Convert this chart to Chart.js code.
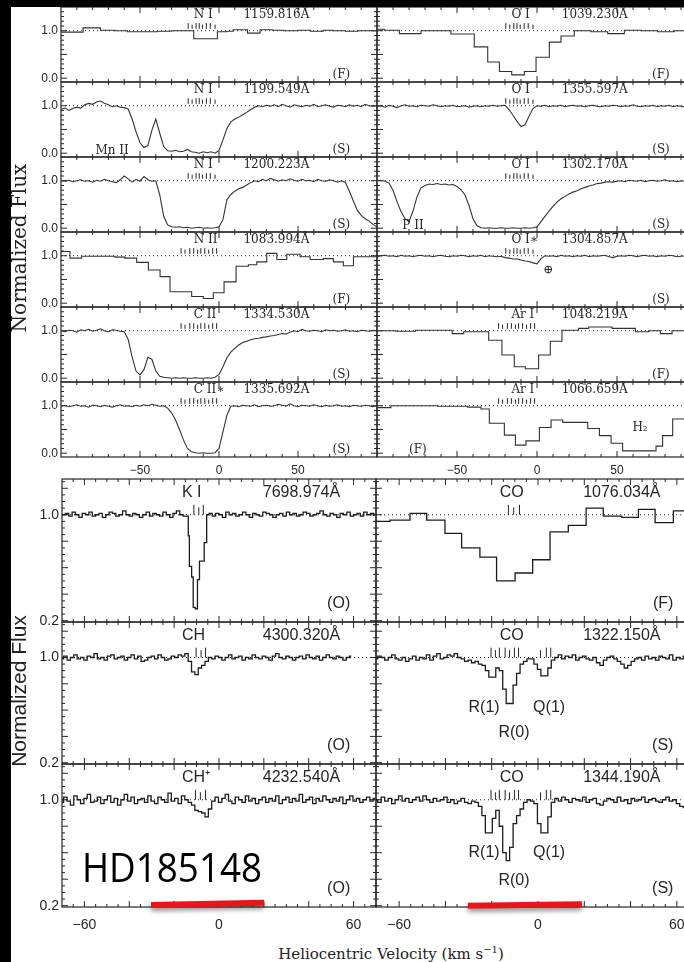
<!DOCTYPE html>
<html>
<head>
<meta charset="utf-8">
<title>HD185148 interstellar line profiles</title>
<script src="https://cdn.jsdelivr.net/npm/chart.js@4.4.1/dist/chart.umd.min.js"></script>
<style>
  html, body { margin: 0; padding: 0; overflow: hidden; background: #fff; }
  #fig { position: relative; width: 684px; height: 962px; overflow: hidden; background: #fff; }
  #fig canvas { position: absolute; }
  .bar { position: absolute; background: #000; z-index: 5; }
  .ytitle { position: absolute; white-space: nowrap; transform: translate(-50%, -50%) rotate(-90deg); color: #222; z-index: 6; }
  #xtitle { position: absolute; left: 391px; top: 953px; transform: translate(-50%, -50%); white-space: nowrap;
            font: 15px "DejaVu Serif", serif; color: #222; }
  #xtitle sup { font-size: 10px; }
</style>
</head>
<body>
<div id="fig">
  <div class="bar" style="left:0;top:0;width:684px;height:7px"></div>
  <div class="bar" style="left:0;top:0;width:11px;height:962px"></div>
  <div class="ytitle" style="left:19px;top:248px;font:20px 'DejaVu Serif',serif">Normalized Flux</div>
  <div class="ytitle" style="left:19px;top:691px;font:21px 'Liberation Sans',sans-serif">Normalized Flux</div>
  <div id="xtitle">Heliocentric Velocity (km s<sup>&minus;1</sup>)</div>
</div>
<script>
const INK = '#262626';
const SERIF = '"DejaVu Serif", "Liberation Serif", serif';
const SANS = '"Liberation Sans", Arimo, Helvetica, sans-serif';

// ---------- UV profiles (km/s, normalized flux) ----------
// STIS pixels, 2.5 km/s sampling
const velTopS = [
  -100, -97.5, -95, -92.5, -90, -87.5, -85, -82.5, -80, -77.5,
  -75, -72.5, -70, -67.5, -65, -62.5, -60, -57.5, -55, -52.5,
  -50, -47.5, -45, -42.5, -40, -37.5, -35, -32.5, -30, -27.5,
  -25, -22.5, -20, -17.5, -15, -12.5, -10, -7.5, -5, -2.5,
  0, 2.5, 5, 7.5, 10, 12.5, 15, 17.5, 20, 22.5,
  25, 27.5, 30, 32.5, 35, 37.5, 40, 42.5, 45, 47.5,
  50, 52.5, 55, 57.5, 60, 62.5, 65, 67.5, 70, 72.5,
  75, 77.5, 80, 82.5, 85, 87.5, 90, 92.5, 95, 97.5, 100
];
const nI1199Flux = [
  0.93, 0.95, 0.90, 0.94, 0.97, 0.95, 1.02, 1.05, 1.03, 1.08,
  1.10, 1.05, 1.02, 0.98, 1.00, 0.97, 0.96, 0.93, 0.72, 0.45,
  0.22, 0.12, 0.16, 0.48, 0.72, 0.42, 0.14, 0.05, 0.04, 0.06,
  0.03, 0.04, 0.08, 0.03, 0.02, 0.00, 0.03, 0.01, 0.03, 0.00,
  0.06, 0.28, 0.52, 0.66, 0.72, 0.76, 0.81, 0.86, 0.92, 0.97,
  1.00, 0.98, 1.01, 0.99, 1.02, 0.98, 1.03, 1.00, 0.97, 1.02,
  1.00, 0.98, 1.01, 0.99, 1.03, 0.98, 1.00, 1.02, 0.99, 0.97,
  1.01, 1.00, 0.98, 1.02, 0.99, 1.01, 0.98, 1.03, 1.00, 0.99, 1.00
];
const nI1200Flux = [
  1.00, 0.99, 1.01, 0.98, 1.00, 1.02, 0.99, 1.00, 0.97, 1.01,
  0.99, 1.03, 1.00, 0.98, 0.96, 1.02, 1.10, 1.04, 0.97, 1.03,
  0.99, 1.09, 1.02, 0.99, 1.00, 0.70, 0.25, 0.07, 0.03, 0.02,
  0.03, 0.01, 0.02, 0.00, 0.01, 0.02, 0.00, 0.01, 0.00, 0.01,
  0.03, 0.18, 0.60, 0.71, 0.78, 0.83, 0.86, 0.91, 0.96, 1.00,
  0.98, 1.03, 1.00, 1.05, 1.02, 0.99, 1.02, 1.00, 1.04, 1.01,
  0.99, 1.03, 1.00, 1.01, 0.98, 1.03, 1.00, 0.99, 1.02, 1.00,
  0.97, 1.00, 0.97, 0.78, 0.58, 0.38, 0.27, 0.20, 0.15, 0.08, 0.03
];
const cII1334Flux = [
  1.00, 0.98, 1.01, 1.00, 0.97, 1.02, 1.00, 1.03, 0.99, 1.01,
  1.04, 1.00, 0.98, 1.02, 1.01, 0.99, 0.98, 0.82, 0.45, 0.15,
  0.07, 0.18, 0.44, 0.40, 0.15, 0.04, 0.02, 0.01, 0.00, 0.01,
  0.00, 0.01, 0.00, 0.00, 0.01, 0.00, 0.00, 0.01, 0.00, 0.02,
  0.08, 0.24, 0.43, 0.55, 0.63, 0.70, 0.75, 0.78, 0.81, 0.83,
  0.84, 0.86, 0.87, 0.89, 0.90, 0.92, 0.94, 0.93, 0.97, 1.00,
  0.98, 1.03, 1.00, 0.99, 1.01, 1.00, 0.98, 1.02, 1.00, 1.01,
  0.99, 1.00, 1.02, 0.99, 1.00, 0.98, 1.01, 1.00, 0.99, 1.01, 1.00
];
const cIIs1335Flux = [
  0.99, 1.01, 0.98, 1.00, 1.02, 0.99, 1.00, 0.97, 1.01, 1.00,
  0.98, 1.01, 0.99, 0.97, 1.00, 1.02, 0.99, 1.00, 0.98, 1.01,
  0.99, 1.02, 1.00, 1.03, 1.01, 0.99, 1.00, 0.95, 0.85, 0.70,
  0.50, 0.28, 0.10, 0.03, 0.01, 0.00, 0.01, 0.00, 0.00, 0.01,
  0.10, 0.45, 0.80, 0.99, 1.00, 0.98, 1.01, 1.00, 0.99, 1.02,
  0.98, 1.00, 1.01, 0.99, 1.00, 1.03, 1.01, 0.99, 1.04, 1.00,
  0.98, 1.01, 1.00, 0.99, 1.02, 1.00, 0.98, 1.01, 0.99, 1.00,
  1.02, 0.99, 1.00, 0.98, 1.01, 1.00, 0.99, 1.01, 1.00, 0.98, 1.00
];
const oI1355Flux = [
  0.98, 1.00, 0.97, 1.01, 0.99, 0.96, 1.00, 1.02, 0.99, 1.00,
  0.98, 1.01, 1.00, 0.99, 1.02, 1.00, 0.98, 1.00, 0.99, 1.01,
  0.98, 0.99, 1.00, 0.97, 0.99, 1.00, 0.98, 1.00, 0.99, 1.01,
  0.99, 1.00, 1.01, 0.92, 0.80, 0.67, 0.56, 0.60, 0.78, 0.94,
  1.00, 0.99, 1.01, 0.98, 1.00, 0.99, 1.01, 0.98, 1.00, 1.01,
  0.99, 1.00, 0.98, 1.00, 1.01, 0.99, 0.98, 1.00, 0.99, 1.01,
  1.00, 0.98, 1.00, 0.99, 1.02, 0.99, 0.98, 1.00, 0.99, 1.01,
  0.98, 1.00, 0.99, 1.01, 0.98, 1.00, 0.99, 0.97, 1.00, 0.99, 1.00
];
const oI1302Flux = [
  1.00, 1.01, 0.99, 0.95, 0.80, 0.56, 0.35, 0.20, 0.14, 0.36,
  0.66, 0.85, 0.90, 0.93, 0.92, 0.94, 0.92, 0.93, 0.91, 0.92,
  0.88, 0.81, 0.70, 0.48, 0.20, 0.05, 0.01, 0.00, 0.01, 0.00,
  0.00, 0.01, 0.00, 0.00, 0.01, 0.00, 0.00, 0.01, 0.00, 0.01,
  0.03, 0.14, 0.25, 0.36, 0.46, 0.55, 0.62, 0.67, 0.72, 0.76,
  0.79, 0.83, 0.86, 0.89, 0.91, 0.94, 0.95, 0.97, 0.98, 0.97,
  0.99, 1.00, 0.98, 1.01, 1.00, 0.99, 1.01, 0.98, 1.00, 1.01,
  0.99, 1.00, 1.02, 0.99, 1.00, 0.98, 1.00, 0.99, 1.00, 1.01, 1.00
];
const oIs1304Flux = [
  0.98, 1.00, 1.01, 0.99, 1.00, 0.98, 1.01, 0.99, 1.00, 0.98,
  1.00, 1.01, 0.99, 1.00, 0.98, 1.00, 1.01, 0.99, 0.98, 1.00,
  0.99, 1.01, 1.00, 0.98, 1.00, 0.99, 1.01, 0.98, 1.00, 0.99,
  0.98, 0.99, 0.96, 0.95, 0.93, 0.93, 0.91, 0.89, 0.88, 0.85,
  0.83, 0.94, 1.00, 0.99, 1.00, 0.98, 1.01, 0.99, 1.00, 0.98,
  1.00, 0.99, 1.01, 0.98, 1.00, 0.99, 1.00, 1.01, 0.98, 0.96,
  0.99, 1.00, 0.99, 1.01, 1.00, 0.98, 1.00, 1.01, 0.99, 1.00,
  0.98, 1.00, 0.99, 1.01, 1.00, 0.98, 0.99, 1.00, 0.99, 1.00, 1.00
];

// FUSE bins: left bin edges, value held to the next edge
const nI1159Vel  = [-100, -86, -75, -66, -58, -48, -39, -30, -22, -16, -1, 5, 9, 18, 26, 34, 41, 50, 58, 66, 72, 80, 88, 96, 100];
const nI1159Flux = [0.97, 1.06, 1.01, 1.00, 0.98, 0.98, 0.99, 1.00, 1.00, 0.83, 0.98, 0.99, 1.02, 0.95, 1.02, 1.01, 1.00, 1.01, 0.99, 1.01, 1.00, 0.99, 1.00, 1.00, 1.00];
const nII1083Vel  = [-100, -94.3, -86.9, -75.3, -65.8, -59.5, -52.1, -44.7, -37.3, -31, -24, -17.3, -9.9, -3.6, 3.2, 10.8, 18.6, 23.9, 30.2, 36.6, 42.9, 51.3, 57.7, 66.1, 72.4, 78.7, 85.1, 100];
const nII1083Flux = [1.09, 0.95, 0.99, 0.99, 0.97, 0.95, 0.86, 0.70, 0.56, 0.24, 0.24, 0.14, 0.10, 0.22, 0.45, 0.78, 0.81, 0.87, 1.05, 0.92, 1.03, 0.98, 0.92, 0.94, 0.87, 0.79, 0.98, 0.98];
const oI1039Vel  = [-100, -95.4, -86, -72.5, -53.8, -39.2, -30.8, -23.5, -15.8, -7.9, -0.6, 7.7, 15, 23.3, 33.8, 44.2, 54.6, 65, 75.4, 85.8, 100];
const oI1039Flux = [1.03, 1.01, 0.94, 1.00, 0.93, 0.66, 0.34, 0.14, 0.07, 0.14, 0.44, 0.76, 0.89, 1.00, 0.98, 0.94, 1.01, 1.00, 0.98, 1.00, 1.00];
const arI1048Vel  = [-100, -88.3, -76, -53, -45.8, -30.2, -21.9, -14.2, -7.3, 1, 8.3, 15.6, 26, 32.3, 46.9, 61.5, 69.8, 77.1, 84.4, 92.7, 100];
const arI1048Flux = [1.00, 0.99, 1.01, 0.94, 0.98, 0.80, 0.49, 0.24, 0.20, 0.49, 0.78, 1.01, 1.05, 1.08, 1.05, 0.98, 1.00, 0.94, 1.00, 1.01, 1.01];
const arI1066Vel  = [-100, -91.3, -80.8, -62, -43.3, -35, -29.8, -20.4, -13.5, -6.9, 1.5, 8.8, 16.1, 31.7, 39, 46.3, 53.5, 74.4, 78.5, 84.8, 100];
const arI1066Flux = [0.96, 1.00, 1.00, 0.99, 0.97, 0.93, 0.63, 0.38, 0.17, 0.26, 0.54, 0.70, 0.65, 0.52, 0.37, 0.21, 0.05, 0.15, 0.37, 0.72, 0.72];

// ---------- optical and CO profiles ----------
const velBottom = [
  -70, -68.5, -67, -65.5, -64, -62.5, -61, -59.5, -58, -56.5,
  -55, -53.5, -52, -50.5, -49, -47.5, -46, -44.5, -43, -41.5,
  -40, -38.5, -37, -35.5, -34, -32.5, -31, -29.5, -28, -26.5,
  -25, -23.5, -22, -20.5, -19, -17.5, -16, -14.5, -13, -11.5,
  -10, -8.5, -7, -5.5, -4, -2.5, -1, 0.5, 2, 3.5,
  5, 6.5, 8, 9.5, 11, 12.5, 14, 15.5, 17, 18.5,
  20, 21.5, 23, 24.5, 26, 27.5, 29, 30.5, 32, 33.5,
  35, 36.5, 38, 39.5, 41, 42.5, 44, 45.5, 47, 48.5,
  50, 51.5, 53, 54.5, 56, 57.5, 59, 60.5, 62, 63.5,
  65, 66.5, 68, 69.5
];
const kIVel = [
  -70, -68.5, -67, -65.5, -64, -62.5, -61, -59.5, -58, -56.5,
  -55, -53.5, -52, -50.5, -49, -47.5, -46, -44.5, -43, -41.5,
  -40, -38.5, -37, -35.5, -34, -32.5, -31, -29.5, -28, -26.5,
  -25, -23.5, -22, -20.5, -19, -17.5, -16,
  -14.8, -13.7, -13.2, -12.2, -11.5, -10.6, -9.6, -8.7, -7.6, -6.6, -5.5, -4.4, -3,
  -1.5, 0, 1.5, 3, 4.5, 6, 7.5, 9, 10.5, 12, 13.5, 15, 16.5, 18, 19.5, 21,
  22.5, 24, 25.5, 27, 28.5, 30, 31.5, 33, 34.5, 36, 37.5, 39, 40.5, 42,
  43.5, 45, 46.5, 48, 49.5, 51, 52.5, 54, 55.5, 57, 58.5, 60, 61.5, 63,
  64.5, 66, 67.5, 69
];
const kIFlux = [
  1.00, 1.01, 0.99, 1.02, 1.00, 0.98, 1.01, 1.00, 1.02, 0.99,
  1.00, 1.01, 0.98, 1.00, 1.02, 1.01, 0.99, 1.00, 1.03, 1.00,
  0.99, 1.01, 1.00, 0.98, 1.00, 1.02, 0.99, 1.01, 1.00, 0.99,
  1.02, 1.00, 0.98, 1.01, 1.03, 1.00, 0.99,
  0.99, 0.84, 0.61, 0.53, 0.30, 0.29, 0.51, 0.65, 0.65, 0.79, 1.00, 1.01, 0.99,
  1.01, 1.00, 0.98, 1.02, 1.00, 1.01, 0.99, 1.00, 1.02, 1.00,
  0.98, 1.01, 1.00, 0.99, 1.02, 1.01, 1.00, 0.98, 1.00, 1.01,
  0.99, 1.02, 1.00, 1.01, 0.99, 1.00, 1.02, 1.01, 0.99, 1.00,
  1.01, 1.03, 1.00, 0.99, 1.01, 1.00, 0.98, 1.01, 1.00, 1.02,
  0.99, 1.00, 1.01, 0.99, 1.02, 1.00, 1.01, 0.99
];
const chFlux = [
  0.99, 1.01, 0.98, 1.00, 1.02, 0.99, 1.00, 0.98, 1.01, 1.00,
  1.03, 0.99, 1.00, 0.98, 1.01, 1.02, 0.99, 1.00, 1.01, 0.98,
  1.00, 1.02, 0.99, 1.01, 0.97, 0.98, 1.00, 1.01, 0.99, 1.02,
  1.00, 0.98, 0.99, 1.01, 1.00, 1.02, 1.01,
  1.03, 0.97, 0.89, 0.87, 0.92, 0.94, 0.97, 1.00,
  0.99, 1.01, 1.00, 0.98, 1.00, 1.02, 0.99, 1.00, 1.01, 0.98,
  1.00, 0.99, 1.02, 1.00, 0.99, 1.01, 1.00, 0.98, 1.01, 1.03,
  1.00, 0.99, 1.01, 1.00, 0.98, 1.00, 1.01, 0.99, 1.02, 1.00,
  0.99, 1.01, 0.98, 1.00, 1.02, 1.00, 0.99, 1.01, 1.00, 0.98,
  1.00, 1.01,
  null, null, null, null, null, null, null
];
const chPlusFlux = [
  0.98, 1.02, 0.99, 0.96, 1.03, 1.00, 0.97, 1.01, 1.04, 0.98,
  0.99, 1.02, 0.97, 1.00, 1.03, 0.98, 1.01, 0.96, 1.00, 1.04,
  0.99, 1.02, 0.97, 1.00, 1.01, 0.98, 1.03, 0.99, 0.97, 1.02,
  1.00, 0.98, 1.05, 0.99, 1.01, 0.97, 1.03, 1.00, 0.98,
  0.96, 0.92, 0.91, 0.90, 0.87, 0.93, 0.99,
  1.02, 0.98, 1.01, 1.04, 0.99, 0.97, 1.02, 1.00, 0.98, 1.03,
  0.99, 1.01, 0.97, 1.00, 1.02, 0.98, 1.01, 0.99, 1.03, 0.97,
  1.00, 1.02, 0.98, 1.01, 0.99, 1.04, 0.98, 1.00, 1.02, 0.97,
  1.01, 0.99, 1.03, 1.00, 0.98, 1.01, 0.99, 1.02, 0.97, 1.00,
  1.03, 0.99, 1.01, 0.98, 1.00, 1.02, 0.99, 1.01
];
const co1076Vel  = [-70, -64, -55.3, -48.1, -40.2, -33, -25.1, -17.9, -9.9, -2.3, 5.2, 13.1, 20.8, 28.2, 36.2, 43.4, 50.6, 58.5, 66, 70];
const co1076Flux = [0.95, 0.96, 1.01, 0.96, 0.86, 0.75, 0.68, 0.50, 0.56, 0.66, 0.87, 0.92, 1.05, 0.99, 0.98, 1.04, 0.94, 1.03, 1.01, 1.01];
const co1322Flux = [
  0.99, 1.01, 1.00, 0.98, 1.00, 1.02, 0.99, 0.98, 1.00, 0.97,
  0.99, 1.01, 0.98, 1.00, 0.99, 1.02, 0.98, 1.01, 1.03, 0.99,
  1.00, 1.02, 1.01, 1.03, 1.00,
  0.99, 0.97, 0.98, 0.96, 0.97, 0.95, 0.94, 0.90, 0.85, 0.85,
  0.92, 0.90, 0.76, 0.65, 0.65, 0.79, 0.88, 0.95, 0.97, 0.99,
  0.99, 0.95, 0.91, 0.86, 0.86, 0.92, 0.98,
  1.00, 1.02, 0.99, 1.01, 1.00, 1.02, 0.98, 1.00, 1.01, 0.99,
  0.98, 1.00, 0.96, 0.94, 0.98, 1.00, 1.01, 0.99, 0.97, 0.95,
  0.92, 0.94, 0.97, 0.99, 1.00, 0.98, 1.01, 0.99, 1.00, 0.98,
  1.01, 1.00, 0.99, 1.02, 0.98, 1.00, 0.99, 1.01, 1.00, 0.98,
  0.99, 1.00
];
const co1344Flux = [
  1.00, 0.98, 1.02, 0.99, 1.01, 0.97, 1.00, 1.03, 0.99, 1.01,
  0.98, 1.00, 1.02, 0.99, 1.03, 1.00, 0.98, 1.01, 0.99, 1.00,
  1.02, 0.98, 1.00, 0.97, 0.99, 1.01, 0.98, 0.97, 0.99, 0.98,
  0.95, 0.88, 0.75, 0.75, 0.86, 0.92, 0.80, 0.60, 0.54, 0.64,
  0.82, 0.88, 0.93, 0.98, 1.00, 0.99, 0.97, 0.82, 0.75, 0.75,
  0.87, 0.98,
  1.01, 0.99, 1.02, 1.00, 0.98, 1.01, 1.00, 0.99, 1.02, 0.98,
  1.00, 1.01, 0.97, 0.96, 0.99, 1.01, 1.00, 0.98, 1.02, 0.99,
  1.00, 0.97, 1.01, 0.99, 1.00, 1.02, 0.98, 1.00, 1.01, 0.99,
  0.98, 1.00, 1.02, 0.99, 1.00, 0.97, 0.95, 0.94, 0.98, 1.00,
  0.99, 1.01
];

// absorbing components marked above the continuum
const compNI  = [-19.5, -17, -14.5, -12.5, -10.5, -8, -5.5, -2.5];
const compNII = [-24, -21.5, -18.5, -16, -13.5, -11.5, -9, -6.5, -4, -1.5];
const compKI  = [-11.2, -9, -7];
const compCH  = [-10.2, -8, -6];
const compCHp = [-10.5, -8.3, -6];
const compCO1076 = [-12.8, -10.5, -8];
const compCO  = [-20.3, -18.4, -16.7, -14.2, -12.3, -10.2, -8.4, 1.1, 3.6, 5.5];

// velocity range highlighted under the two lowest panels
const rangeVel = [-30.3, 20.1];
const rangeFluxLeft = [0.205, 0.222];
const rangeVelRight = [-30.3, 19];
const rangeFluxRight = [0.2, 0.211];

// axis tick labels
const topVelLabels = [-50, 0, 50];
const topFluxLabels = [0, 1];
const botVelLabels = [-60, 0, 60];
const botFluxLabels = [0.2, 1];

// ---------- layout ----------
const M = 40;
const TOP = {
  rows: [7, 82, 157, 232, 307, 382, 457], cols: [61, 377], widths: [316, 320],
  vmin: -100, vmax: 100, fmin: -0.08, fmax: 1.5,
  vStep: 10, vMajor: 50, fStep: 0.1, fRatio: 5,
  velLabels: topVelLabels, fluxLabels: topFluxLabels, tickSize: 12, xPad: 6,
  font: '12px ' + SERIF, markBase: 1.04, markLen: 0.12,
  specV: -16, waveV: 15.5, flagV: 83, headF: 1.34, flagF: 0.07,
  lineColor: '#333', lineWidth: 1.1
};
const BOT = {
  rows: [479, 622, 764, 907], cols: [62, 376], widths: [314, 324],
  vmin: -70, vmax: 70, fmin: 0.19, fmax: 1.27,
  vStep: 5, vMajor: 20, fStep: 0.05, fRatio: 4,
  velLabels: botVelLabels, fluxLabels: botFluxLabels, tickSize: 14, xPad: 10,
  font: '16px ' + SANS, markBase: 1.0, markLen: 0.075,
  specV: -16.5, waveV: 19.5, flagV: 58.5, headF: 1.17, flagF: 0.33,
  lineColor: '#1c1c1c', lineWidth: 1.3
};

const panels = [
  { g: TOP, col: 0, row: 0, vel: nI1159Vel, flux: nI1159Flux, stepped: 'before', species: 'N I', wave: '1159.816Å', flag: '(F)', marks: compNI },
  { g: TOP, col: 0, row: 1, vel: velTopS, flux: nI1199Flux, stepped: false, species: 'N I', wave: '1199.549Å', flag: '(S)', marks: compNI,
    notes: [{ t: 'Mn II', v: -67.7, f: 0.05 }] },
  { g: TOP, col: 0, row: 2, vel: velTopS, flux: nI1200Flux, stepped: false, species: 'N I', wave: '1200.223Å', flag: '(S)', marks: compNI },
  { g: TOP, col: 0, row: 3, vel: nII1083Vel, flux: nII1083Flux, stepped: 'before', species: 'N II', wave: '1083.994Å', flag: '(F)', marks: compNII },
  { g: TOP, col: 0, row: 4, vel: velTopS, flux: cII1334Flux, stepped: false, species: 'C II', wave: '1334.530Å', flag: '(S)', marks: compNII },
  { g: TOP, col: 0, row: 5, vel: velTopS, flux: cIIs1335Flux, stepped: false, species: 'C II∗', wave: '1335.692Å', flag: '(S)', marks: compNII, xLabels: true },
  { g: TOP, col: 1, row: 0, vel: oI1039Vel, flux: oI1039Flux, stepped: 'before', species: 'O I', wave: '1039.230Å', flag: '(F)', marks: compNI },
  { g: TOP, col: 1, row: 1, vel: velTopS, flux: oI1355Flux, stepped: false, species: 'O I', wave: '1355.597Å', flag: '(S)', marks: compNI },
  { g: TOP, col: 1, row: 2, vel: velTopS, flux: oI1302Flux, stepped: false, species: 'O I', wave: '1302.170Å', flag: '(S)', marks: compNI,
    notes: [{ t: 'P II', v: -77.5, f: 0.05 }] },
  { g: TOP, col: 1, row: 3, vel: velTopS, flux: oIs1304Flux, stepped: false, species: 'O I∗', wave: '1304.857Å', flag: '(S)', marks: compNI,
    notes: [{ t: '⊕', v: 6.9, f: 0.71 }] },
  { g: TOP, col: 1, row: 4, vel: arI1048Vel, flux: arI1048Flux, stepped: 'before', species: 'Ar I', wave: '1048.219Å', flag: '(F)', marks: compNII },
  { g: TOP, col: 1, row: 5, vel: arI1066Vel, flux: arI1066Flux, stepped: 'before', species: 'Ar I', wave: '1066.659Å', marks: compNII, xLabels: true,
    notes: [{ t: 'H₂', v: 64.4, f: 0.54 }, { t: '(F)', v: -74.5, f: 0.07 }] },

  { g: BOT, col: 0, row: 0, vel: kIVel, flux: kIFlux, stepped: 'before', species: 'K I', wave: '7698.974Å', flag: '(O)', marks: compKI },
  { g: BOT, col: 0, row: 1, vel: velBottom, flux: chFlux, stepped: 'middle', species: 'CH', wave: '4300.320Å', flag: '(O)', marks: compCH },
  { g: BOT, col: 0, row: 2, vel: velBottom, flux: chPlusFlux, stepped: 'middle', species: 'CH⁺', wave: '4232.540Å', flag: '(O)', marks: compCHp,
    xLabels: true, range: { vel: rangeVel, flux: rangeFluxLeft }, stamp: 'HD185148' },
  { g: BOT, col: 1, row: 0, vel: co1076Vel, flux: co1076Flux, stepped: 'before', species: 'CO', wave: '1076.034Å', flag: '(F)', marks: compCO1076 },
  { g: BOT, col: 1, row: 1, vel: velBottom, flux: co1322Flux, stepped: 'middle', species: 'CO', wave: '1322.150Å', flag: '(S)', marks: compCO,
    notes: [{ t: 'R(1)', v: -23.3, f: 0.62 }, { t: 'R(0)', v: -10.4, f: 0.43 }, { t: 'Q(1)', v: 4.8, f: 0.62 }] },
  { g: BOT, col: 1, row: 2, vel: velBottom, flux: co1344Flux, stepped: 'middle', species: 'CO', wave: '1344.190Å', flag: '(S)', marks: compCO,
    xLabels: true, range: { vel: rangeVelRight, flux: rangeFluxRight },
    notes: [{ t: 'R(1)', v: -23.3, f: 0.60 }, { t: 'R(0)', v: -10.4, f: 0.39 }, { t: 'Q(1)', v: 4.8, f: 0.60 }] }
];

function fmtVel(v) {
  return v < 0 ? '\u2212' + Math.abs(v) : String(v);
}

// frame, inward ticks, dotted continuum, component marks and labels
function decor(p) {
  const g = p.g;
  return {
    id: 'decor',
    beforeDatasetsDraw(chart) {
      const { ctx, chartArea: a } = chart;
      const x = chart.scales.x, y = chart.scales.y;
      ctx.save();
      ctx.strokeStyle = INK;
      ctx.lineWidth = 1;
      const yc = y.getPixelForValue(1);
      ctx.setLineDash([1, 3]);
      ctx.beginPath();
      ctx.moveTo(a.left, yc);
      ctx.lineTo(a.right, yc);
      ctx.stroke();
      ctx.setLineDash([]);

      ctx.lineWidth = 1.2;
      ctx.strokeRect(a.left, a.top, a.width, a.height);
      ctx.lineWidth = 1;
      ctx.beginPath();
      const k0 = Math.ceil(g.vmin / g.vStep), k1 = Math.floor(g.vmax / g.vStep);
      for (let k = k0; k <= k1; k++) {
        const v = k * g.vStep;
        if (v <= g.vmin || v >= g.vmax) continue;
        const px = x.getPixelForValue(v);
        const len = v % g.vMajor === 0 ? 6 : 3;
        ctx.moveTo(px, a.bottom); ctx.lineTo(px, a.bottom - len);
        ctx.moveTo(px, a.top); ctx.lineTo(px, a.top + len);
      }
      const j0 = Math.ceil(g.fmin / g.fStep - 1e-6), j1 = Math.floor(g.fmax / g.fStep + 1e-6);
      for (let j = j0; j <= j1; j++) {
        const py = y.getPixelForValue(j * g.fStep);
        if (py <= a.top + 0.5 || py >= a.bottom - 0.5) continue;
        const len = j % g.fRatio === 0 ? 6 : 3;
        ctx.moveTo(a.left, py); ctx.lineTo(a.left + len, py);
        ctx.moveTo(a.right, py); ctx.lineTo(a.right - len, py);
      }
      ctx.stroke();

      ctx.beginPath();
      const yb = y.getPixelForValue(g.markBase), yt = y.getPixelForValue(g.markBase + g.markLen);
      (p.marks || []).forEach((v, i) => {
        const px = x.getPixelForValue(v);
        const top = i % 3 === 1 ? yt + (yb - yt) * 0.25 : yt;
        ctx.moveTo(px, yb); ctx.lineTo(px, top);
      });
      ctx.stroke();
      ctx.restore();
    },
    beforeDatasetDraw(chart, args) {
      if (args.index !== 1) return;
      const ctx = chart.ctx;
      ctx.save();
      ctx.shadowColor = 'rgba(0,0,0,0.45)';
      ctx.shadowBlur = 5;
      ctx.shadowOffsetY = 3;
    },
    afterDatasetDraw(chart, args) {
      if (args.index !== 1) return;
      chart.ctx.restore();
    },
    afterDatasetsDraw(chart) {
      const { ctx, chartArea: a } = chart;
      const x = chart.scales.x, y = chart.scales.y;
      ctx.save();
      ctx.fillStyle = INK;
      ctx.font = g.font;
      ctx.textBaseline = 'middle';
      ctx.textAlign = 'left';
      ctx.fillText(p.species, x.getPixelForValue(g.specV), y.getPixelForValue(g.headF));
      ctx.fillText(p.wave, x.getPixelForValue(g.waveV), y.getPixelForValue(g.headF));
      if (p.flag) {
        ctx.textAlign = 'right';
        ctx.fillText(p.flag, x.getPixelForValue(g.flagV), y.getPixelForValue(g.flagF));
      }
      ctx.textAlign = 'center';
      (p.notes || []).forEach(n => {
        ctx.fillText(n.t, x.getPixelForValue(n.v), y.getPixelForValue(n.f));
      });
      if (p.stamp) {
        ctx.fillStyle = '#000';
        ctx.font = '40px "Open Sans", sans-serif';
        ctx.textAlign = 'left';
        ctx.textBaseline = 'alphabetic';
        ctx.fillText(p.stamp, a.left + 20, a.top + 118, 180);
      }
      ctx.restore();
    }
  };
}

function makePanel(p) {
  const g = p.g;
  const bx = g.cols[p.col], by = g.rows[p.row];
  const bw = g.widths[p.col], bh = g.rows[p.row + 1] - by;
  const showX = !!p.xLabels, showY = p.col === 0;
  const canvas = document.createElement('canvas');
  canvas.width = bw + 2 * M;
  canvas.height = bh + 2 * M;
  canvas.style.left = (bx - M) + 'px';
  canvas.style.top = (by - M) + 'px';
  canvas.style.width = canvas.width + 'px';
  canvas.style.height = canvas.height + 'px';
  document.getElementById('fig').appendChild(canvas);

  const datasets = [{
    data: p.vel.map((v, i) => ({ x: v, y: p.flux[i] })),
    stepped: p.stepped,
    borderColor: g.lineColor,
    borderWidth: g.lineWidth,
    pointRadius: 0,
    fill: false,
    spanGaps: false
  }];
  if (p.range) {
    datasets.push({
      data: p.range.vel.map((v, i) => ({ x: v, y: p.range.flux[i] })),
      borderColor: '#e8161b',
      borderWidth: 6,
      borderCapStyle: 'butt',
      pointRadius: 0,
      clip: false
    });
  }

  new Chart(canvas, {
    type: 'line',
    data: { datasets },
    options: {
      responsive: false,
      animation: false,
      devicePixelRatio: 1,
      events: [],
      // each axis reserves exactly M pixels, shown or not
      layout: { padding: { left: 0, right: M, top: M, bottom: 0 } },
      plugins: { legend: { display: false }, tooltip: { enabled: false } },
      scales: {
        x: {
          type: 'linear', min: g.vmin, max: g.vmax,
          display: showX,
          grid: { display: false, drawTicks: false },
          border: { display: false },
          afterBuildTicks: s => { s.ticks = g.velLabels.map(v => ({ value: v })); },
          afterFit: s => { s.height = M; },
          ticks: {
            autoSkip: false, maxRotation: 0, padding: g.xPad, color: INK,
            font: { family: SANS, size: g.tickSize },
            callback: v => fmtVel(v)
          }
        },
        y: {
          type: 'linear', min: g.fmin, max: g.fmax,
          display: showY,
          grid: { display: false, drawTicks: false },
          border: { display: false },
          afterBuildTicks: s => { s.ticks = g.fluxLabels.map(f => ({ value: f })); },
          afterFit: s => { s.width = M; },
          ticks: {
            padding: 3, color: INK,
            font: { family: SANS, size: g.tickSize },
            callback: v => Number(v).toFixed(1)
          }
        }
      }
    },
    plugins: [decor(p)]
  });
}

panels.forEach(makePanel);
</script>
</body>
</html>
